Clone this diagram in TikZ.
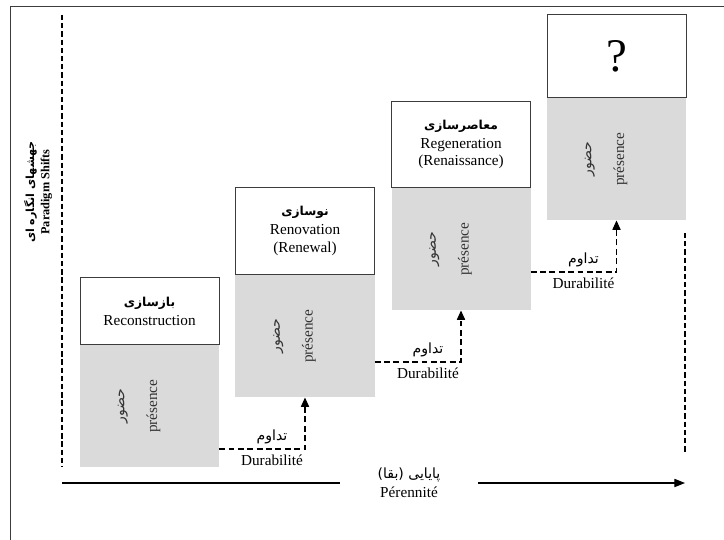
\documentclass[tikz,border=0pt]{standalone}
\usepackage{fontspec}
\setmainfont{Liberation Serif}
\newfontfamily\arabicfont[Script=Arabic]{DejaVu Sans}
\TeXXeTstate=1
\usetikzlibrary{arrows.meta}
\definecolor{presgray}{RGB}{218,218,218}
\definecolor{framegray}{RGB}{60,60,60}
\newcommand{\fa}[1]{{\arabicfont\fontsize{12}{14}\selectfont\beginR #1\endR}}
\newcommand{\fab}[1]{{\arabicfont\bfseries\fontsize{10.5}{13}\selectfont\beginR #1\endR}}
\begin{document}
\begin{tikzpicture}[x=0.03cm,y=-0.03cm,font=\fontsize{13}{15}\selectfont,
  stagebox/.style={draw=framegray,fill=white,line width=0.7pt,minimum width=4.17cm,align=center,inner sep=2pt,anchor=south},
  pres/.style={fill=presgray,minimum width=4.17cm,minimum height=3.66cm,anchor=north},
  vert/.style={rotate=90,text=black!80},
  guide/.style={line width=0.9pt,dash pattern=on 4.5pt off 2.5pt},
  dur/.style={line width=0.9pt,dash pattern=on 5pt off 3pt,-{Triangle[length=8pt,width=7pt]}},
  axis/.style={line width=0.9pt}]
\useasboundingbox (0,0) rectangle (724,540);
\draw[framegray,line width=0.8pt] (10,545) -- (10,6) -- (730,6);

% Paradigm shifts
\draw[guide] (62,15) -- (62,467);
\node[rotate=90,align=center,font=\fontsize{10.5}{13}\selectfont\bfseries] (PS) at (38,192) {{\arabicfont\fontsize{9.5}{12}\selectfont\beginR جهشهای  انگاره ای\endR}\\ Paradigm Shifts};

% stage 1
\node[pres] (P1) at (149.5,345) {};
\node[stagebox,minimum height=2.01cm] (S1) at (P1.north) {\fab{بازسازی}\\[1pt] Reconstruction};
\node[vert] (H1) at ([xshift=-0.8cm]P1.center) {\fa{حضور}};
\node[vert] (F1) at ([xshift=0.12cm]P1.center) {présence};

% stage 2
\node[pres] (P2) at (305,275) {};
\node[stagebox,minimum height=2.61cm] (S2) at (P2.north) {\fab{نوسازی}\\[1pt] Renovation\\ (Renewal)};
\node[vert] (H2) at ([xshift=-0.8cm]P2.center) {\fa{حضور}};
\node[vert] (F2) at ([xshift=0.12cm]P2.center) {présence};

% stage 3
\node[pres] (P3) at (461,188) {};
\node[stagebox,minimum height=2.58cm] (S3) at (P3.north) {\fab{معاصرسازی}\\[1pt] Regeneration\\ (Renaissance)};
\node[vert] (H3) at ([xshift=-0.8cm]P3.center) {\fa{حضور}};
\node[vert] (F3) at ([xshift=0.12cm]P3.center) {présence};

% stage 4
\node[pres] (P4) at (616.5,98) {};
\node[stagebox,minimum height=2.49cm] (S4) at (P4.north) {\fontsize{40}{40}\selectfont ?};
\node[vert] (H4) at ([xshift=-0.8cm]P4.center) {\fa{حضور}};
\node[vert] (F4) at ([xshift=0.12cm]P4.center) {présence};

% durabilite
\coordinate (C1) at (305,449);
\draw[dur] (P1.east |- C1) -- (C1) -- (P2.south);
\node (T1) at ([shift={(-33,-12)}]C1) {\fa{تداوم}};
\node (D1) at ([shift={(-33,11)}]C1) {Durabilité};
\coordinate (C2) at (461,362);
\draw[dur] (P2.east |- C2) -- (C2) -- (P3.south);
\node (T2) at ([shift={(-33,-12)}]C2) {\fa{تداوم}};
\node (D2) at ([shift={(-33,11)}]C2) {Durabilité};
\coordinate (C3) at (616.5,272);
\draw[dur] (P3.east |- C3) -- (C3) -- (P4.south);
\node (T3) at ([shift={(-33,-12)}]C3) {\fa{تداوم}};
\node (D3) at ([shift={(-33,11)}]C3) {Durabilité};

% perennite
\draw[guide] (685,233) -- (685,452);
\coordinate (A0) at (62,483);
\coordinate (A1) at (685,483);
\node[minimum width=4.14cm,align=center,inner sep=0pt] (PER) at (409,483) {\fa{پایایی (بقا)}\\[1pt] Pérennité};
\draw[axis] (A0) -- (PER.west);
\draw[axis,-{Triangle[length=9pt,width=7pt]}] (PER.east) -- (A1);
\end{tikzpicture}
\end{document}
